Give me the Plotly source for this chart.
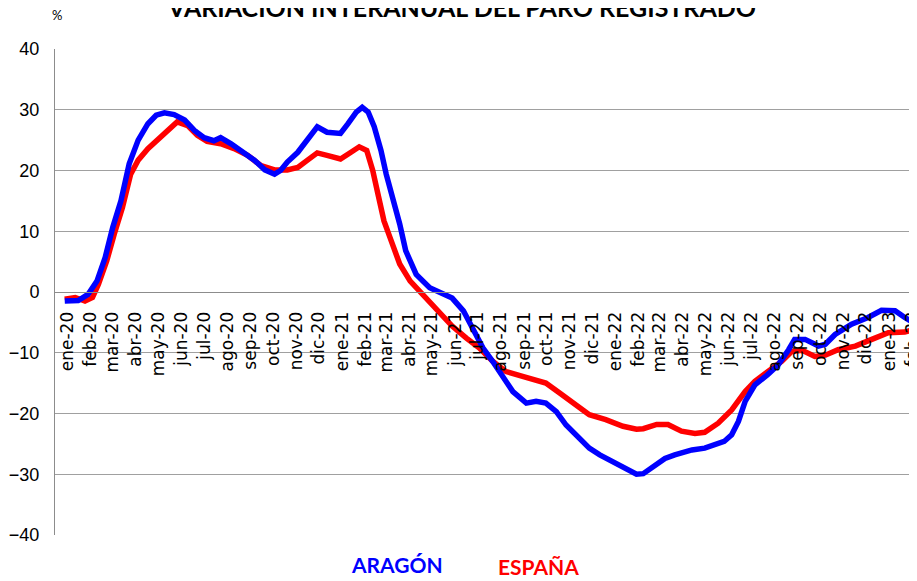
import plotly.graph_objects as go

# ---- data ----
aragon_dates = ["2019-12-28","2020-01-15","2020-01-28","2020-02-09","2020-02-20","2020-03-01","2020-03-12","2020-03-23",
    "2020-04-04","2020-04-17","2020-04-28","2020-05-09","2020-05-22","2020-06-05","2020-06-18","2020-07-01","2020-07-14",
    "2020-07-23","2020-08-06","2020-08-23","2020-09-06","2020-09-20","2020-10-03","2020-10-11","2020-10-20","2020-11-03",
    "2020-11-16","2020-11-29","2020-12-12","2020-12-30","2021-01-09","2021-01-20","2021-01-28","2021-02-05","2021-02-13",
    "2021-02-22","2021-03-01","2021-03-10","2021-03-19","2021-03-27","2021-04-10","2021-04-28","2021-05-11","2021-05-28",
    "2021-06-12","2021-06-25","2021-07-08","2021-07-21","2021-08-04","2021-08-17","2021-09-04","2021-09-17","2021-09-30",
    "2021-10-14","2021-10-27","2021-11-14","2021-11-27","2021-12-11","2021-12-28","2022-01-16","2022-01-29","2022-02-07",
    "2022-02-25","2022-03-08","2022-03-21","2022-04-13","2022-04-30","2022-05-13","2022-05-26","2022-06-05","2022-06-14",
    "2022-06-23","2022-07-06","2022-07-23","2022-08-06","2022-08-20","2022-08-28","2022-09-11","2022-09-29","2022-10-08",
    "2022-10-21","2022-11-12","2022-12-04","2022-12-22","2023-01-09","2023-01-22","2023-02-03"]
aragon_values = [-1.5,-1.4,-0.4,1.8,5.7,10.6,15.0,21.1,
    25.0,27.7,29.1,29.5,29.2,28.3,26.6,25.4,24.9,
    25.4,24.4,23.0,21.7,20.1,19.4,20.0,21.4,23.0,
    25.2,27.2,26.3,26.1,27.7,29.6,30.4,29.6,27.2,
    23.3,19.4,15.6,11.2,6.8,2.9,0.7,0.0,-1.0,
    -3.1,-6.4,-9.2,-11.4,-14.2,-16.4,-18.3,-18.0,-18.3,
    -19.7,-21.9,-24.1,-25.7,-26.8,-27.9,-29.3,-30.0,-29.9,
    -28.2,-27.4,-26.8,-26.0,-25.7,-25.2,-24.6,-23.5,-21.3,
    -18.0,-15.3,-13.6,-12.0,-9.5,-7.8,-7.8,-8.9,-8.6,
    -7.0,-5.3,-4.2,-3.0,-3.1,-4.2,-5.1]

espana_dates = ["2019-12-28","2020-01-11","2020-01-24","2020-02-03","2020-02-11","2020-02-22","2020-03-03","2020-03-14",
    "2020-03-25","2020-04-04","2020-04-17","2020-04-30","2020-05-13","2020-05-26","2020-06-09","2020-06-22","2020-07-05",
    "2020-07-23","2020-08-10","2020-08-28","2020-09-15","2020-10-03","2020-10-20","2020-11-03","2020-11-16","2020-11-29",
    "2020-12-12","2020-12-30","2021-01-13","2021-01-24","2021-02-03","2021-02-11","2021-02-18","2021-02-26","2021-03-06",
    "2021-03-19","2021-04-02","2021-04-19","2021-04-28","2021-05-11","2021-05-28","2021-06-16","2021-07-03","2021-07-21",
    "2021-08-08","2021-08-30","2021-09-17","2021-09-30","2021-10-18","2021-11-05","2021-11-27","2021-12-19","2022-01-11",
    "2022-01-29","2022-02-07","2022-02-25","2022-03-12","2022-03-30","2022-04-17","2022-04-30","2022-05-18","2022-06-05",
    "2022-06-23","2022-07-06","2022-07-23","2022-08-11","2022-08-24","2022-09-07","2022-09-24","2022-10-08","2022-10-25",
    "2022-11-17","2022-12-09","2022-12-31","2023-01-22","2023-02-03"]
espana_values = [-1.2,-0.9,-1.5,-0.9,1.3,5.1,9.5,13.9,
    19.4,21.7,23.6,25.0,26.6,28.0,27.4,25.8,24.8,
    24.4,23.6,22.5,20.8,20.1,20.1,20.5,21.7,22.9,
    22.5,21.9,23.0,23.9,23.3,20.0,16.1,11.7,9.0,
    4.6,1.8,-0.4,-1.5,-3.1,-5.6,-7.6,-9.2,-11.4,
    -13.1,-13.9,-14.6,-15.0,-16.6,-18.3,-20.2,-21.0,-22.1,
    -22.6,-22.5,-21.8,-21.8,-22.9,-23.3,-23.1,-21.6,-19.4,
    -16.4,-14.7,-13.1,-11.4,-9.8,-9.6,-10.6,-10.4,-9.5,
    -8.9,-7.8,-6.7,-6.6,-6.2]

month_ticks = ["2020-01-01","2020-02-01","2020-03-01","2020-04-01","2020-05-01","2020-06-01","2020-07-01","2020-08-01",
    "2020-09-01","2020-10-01","2020-11-01","2020-12-01","2021-01-01","2021-02-01","2021-03-01","2021-04-01","2021-05-01",
    "2021-06-01","2021-07-01","2021-08-01","2021-09-01","2021-10-01","2021-11-01","2021-12-01","2022-01-01","2022-02-01",
    "2022-03-01","2022-04-01","2022-05-01","2022-06-01","2022-07-01","2022-08-01","2022-09-01","2022-10-01","2022-11-01",
    "2022-12-01","2023-01-01","2023-02-01"]
month_labels = ["ene-20","feb-20","mar-20","abr-20","may-20","jun-20","jul-20","ago-20","sep-20","oct-20","nov-20","dic-20",
    "ene-21","feb-21","mar-21","abr-21","may-21","jun-21","jul-21","ago-21","sep-21","oct-21","nov-21","dic-21",
    "ene-22","feb-22","mar-22","abr-22","may-22","jun-22","jul-22","ago-22","sep-22","oct-22","nov-22","dic-22",
    "ene-23","feb-23"]
y_ticks = [-40, -30, -20, -10, 0, 10, 20, 30, 40]

x_range = ["2019-12-15", "2023-02-18"]

fig = go.Figure()
fig.add_trace(go.Scatter(x=espana_dates, y=espana_values, mode="lines", name="ESPAÑA",
                         line=dict(color="#FF0000", width=5.5), showlegend=False))
fig.add_trace(go.Scatter(x=aragon_dates, y=aragon_values, mode="lines", name="ARAGÓN",
                         line=dict(color="#0000FF", width=5.5), showlegend=False))

# page body has an 8px margin, so the figure is laid out 8px up/left of the screen position
fig.update_layout(
    width=917, height=581,
    margin=dict(l=47, r=0, t=41, b=54, autoexpand=False),
    paper_bgcolor="white", plot_bgcolor="white",
    font=dict(family="Lato", color="black"),
    xaxis=dict(type="date", range=x_range, anchor="free", position=0.5, automargin=False,
               tickmode="array", tickvals=month_ticks, ticktext=month_labels,
               tickangle=-90, tickfont=dict(family="DejaVu Sans", size=17, color="black"),
               showgrid=False, showline=True, linecolor="#8C8C8C", linewidth=1,
               ticks="", ticklabelstandoff=12, zeroline=False),
    xaxis2=dict(type="date", range=x_range, overlaying="x", anchor="y", showline=True,
                mirror=True, linecolor="black", linewidth=1, showgrid=False, automargin=False,
                showticklabels=False, ticks="", zeroline=False),
    yaxis=dict(range=[-40, 40], tickmode="array", tickvals=y_ticks, automargin=False,
               tickfont=dict(family="Liberation Sans", size=18, color="black"),
               showgrid=True, gridcolor="#A0A0A0", gridwidth=1,
               showline=True, linecolor="#8C8C8C", linewidth=1,
               ticks="", ticklabelstandoff=11, zeroline=False),
    annotations=[
        dict(text="<b>VARIACIÓN INTERANUAL DEL PARO REGISTRADO</b>", xref="paper", yref="paper",
             x=(453.5 - 47) / 870, y=1 + 42 / 486, xanchor="center", yanchor="middle", showarrow=False,
             font=dict(family="Lato", size=25, color="black")),
        dict(text="%", xref="paper", yref="paper", x=-5 / 870, y=1 + 34 / 486, xanchor="left", yanchor="middle",
             showarrow=False, font=dict(family="Lato", size=13, color="black")),
        dict(text="<b>ARAGÓN</b>", xref="paper", yref="paper", x=(388.5 - 47) / 870, y=-29.5 / 486,
             xanchor="center", yanchor="middle", showarrow=False,
             font=dict(family="Lato", size=21, color="#0000FF")),
        dict(text="<b>ESPAÑA</b>", xref="paper", yref="paper", x=(530 - 47) / 870, y=-31.5 / 486,
             xanchor="center", yanchor="middle", showarrow=False,
             font=dict(family="Lato", size=21, color="#FF0000")),
    ],
)

fig.write_html("out.html")
